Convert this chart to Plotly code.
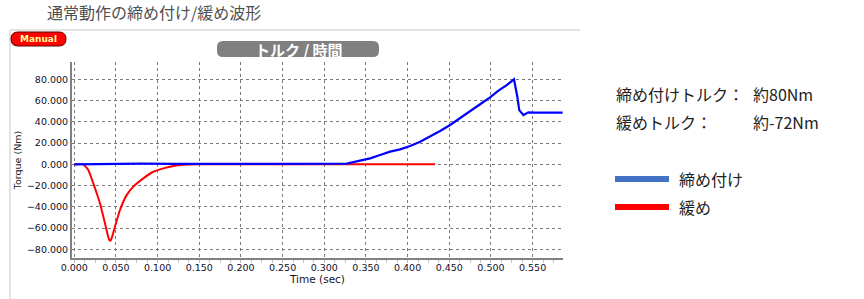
import plotly.graph_objects as go

# ---- data ----
tighten_t = [0, 0.02, 0.05, 0.08, 0.12, 0.16, 0.20, 0.24, 0.28, 0.31, 0.327, 0.343, 0.355, 0.367,
             0.379, 0.391, 0.403, 0.415, 0.427, 0.439, 0.451, 0.463, 0.475, 0.487, 0.499, 0.509,
             0.519, 0.5277, 0.5317, 0.534, 0.539, 0.545, 0.551, 0.586]
tighten_v = [0, 0.2, 0.5, 0.6, 0.4, 0.5, 0.3, 0.5, 0.4, 0.5, 0.6, 3.4, 5.6, 8.7,
             11.9, 14.1, 17.2, 21.3, 26.0, 31.3, 37.0, 43.3, 49.5, 56.5, 63.0, 69.3,
             74.6, 80.0, 63.6, 51.0, 46.4, 48.9, 48.6, 48.6]
loosen_t = [0, 0.0108, 0.0168, 0.0228, 0.0268, 0.0308, 0.0368, 0.040, 0.042, 0.0435, 0.0455,
            0.0488, 0.0548, 0.0628, 0.0708, 0.0828, 0.0948, 0.107, 0.119, 0.131, 0.15, 0.433]
loosen_v = [0, 0, -5.4, -17.9, -27.0, -36.7, -55.5, -66.0, -71.2, -72.0, -68.0,
            -58.7, -43.0, -29.0, -21.0, -13.2, -7.0, -3.8, -1.6, -0.5, 0, 0]

x_ticks = [0.0, 0.05, 0.10, 0.15, 0.20, 0.25, 0.30, 0.35, 0.40, 0.45, 0.50, 0.55]
y_ticks = [-80, -60, -40, -20, 0, 20, 40, 60, 80]

title_text = "通常動作の締め付け/緩め波形"
chart_title = "トルク / 時間"
badge_text = "Manual"
info_lines = [("締め付けトルク：", "約80Nm"), ("緩めトルク：", "約-72Nm")]
legend_items = [("締め付け", "#4472C4"), ("緩め", "#FF0000")]

# ---- layout geometry (pixels) ----
WIDTH, HEIGHT = 864, 299
L, R, T, B = 72, 563, 62, 258
PW, PH = R - L, B - T


def px(x):
    return (x - L) / PW


def py(y):
    return (B - y) / PH


def rounded_rect(x0, y0, x1, y1, r):
    rx, ry = r / PW, r / PH
    X0, X1 = px(x0), px(x1)
    Y0, Y1 = py(y0), py(y1)  # Y0 top (larger), Y1 bottom
    return (f"M {X0+rx},{Y0} L {X1-rx},{Y0} Q {X1},{Y0} {X1},{Y0-ry} "
            f"L {X1},{Y1+ry} Q {X1},{Y1} {X1-rx},{Y1} L {X0+rx},{Y1} "
            f"Q {X0},{Y1} {X0},{Y1+ry} L {X0},{Y0-ry} Q {X0},{Y0} {X0+rx},{Y0} Z")


fig = go.Figure()
fig.add_trace(go.Scatter(x=loosen_t, y=loosen_v, mode="lines",
                         line=dict(color="#FF0000", width=2, shape="spline", smoothing=0.4),
                         showlegend=False))
fig.add_trace(go.Scatter(x=tighten_t, y=tighten_v, mode="lines",
                         line=dict(color="#0000FF", width=2.2), showlegend=False))

shapes = [
    # outer frame lines
    dict(type="line", xref="paper", yref="paper", x0=px(10), x1=px(580), y0=py(30), y1=py(30),
         line=dict(color="#E3E3E3", width=2)),
    dict(type="line", xref="paper", yref="paper", x0=px(10), x1=px(10), y0=py(30), y1=py(299),
         line=dict(color="#E3E3E3", width=2)),
    # Manual badge
    dict(type="path", xref="paper", yref="paper", path=rounded_rect(11, 32, 66, 46, 7),
         fillcolor="#FF0000", line=dict(color="#600000", width=1)),
    # chart title box
    dict(type="path", xref="paper", yref="paper", path=rounded_rect(217, 41, 379, 57, 6),
         fillcolor="#808080", line=dict(width=0)),
]

legend_y = [179, 207]
for (name, color), ly in zip(legend_items, legend_y):
    shapes.append(dict(type="line", xref="paper", yref="paper", x0=px(615), x1=px(669),
                       y0=py(ly), y1=py(ly), line=dict(color=color, width=6)))

annotations = [
    dict(text=title_text, xref="paper", yref="paper", x=px(45), y=py(12), xanchor="left",
         yanchor="middle", showarrow=False,
         font=dict(family="Noto Sans CJK JP", size=16, color="#505050")),
    dict(text="<b>" + badge_text + "</b>", xref="paper", yref="paper", x=px(38.5), y=py(39),
         xanchor="center", yanchor="middle", showarrow=False,
         font=dict(family="DejaVu Sans", size=9, color="#FFFF99")),
    dict(text="<b>" + chart_title + "</b>", xref="paper", yref="paper", x=px(299), y=py(49),
         xanchor="center", yanchor="middle", showarrow=False,
         font=dict(family="Noto Sans CJK JP", size=15, color="#FFFFFF")),
]
for (left, right), ly in zip(info_lines, [94, 122]):
    annotations.append(dict(text=left, xref="paper", yref="paper", x=px(614), y=py(ly),
                            xanchor="left", yanchor="middle", showarrow=False,
                            font=dict(family="Noto Sans CJK JP", size=16, color="#222222")))
    annotations.append(dict(text=right, xref="paper", yref="paper", x=px(751), y=py(ly),
                            xanchor="left", yanchor="middle", showarrow=False,
                            font=dict(family="Noto Sans CJK JP", size=16, color="#222222")))
for (name, color), ly in zip(legend_items, legend_y):
    annotations.append(dict(text=name, xref="paper", yref="paper", x=px(677), y=py(ly),
                            xanchor="left", yanchor="middle", showarrow=False,
                            font=dict(family="Noto Sans CJK JP", size=16, color="#222222")))

tick_font = dict(family="DejaVu Sans", size=9.5, color="#10102a")

fig.update_layout(
    width=WIDTH, height=HEIGHT,
    margin=dict(l=L, r=WIDTH - R, t=T, b=HEIGHT - B, pad=0),
    paper_bgcolor="white", plot_bgcolor="white",
    shapes=shapes, annotations=annotations, showlegend=False,
    xaxis=dict(range=[-0.00276, 0.5865], tickvals=x_ticks, tickformat=".3f",
               showgrid=True, gridcolor="#7a7a7a", griddash="dot", gridwidth=1,
               showline=True, linecolor="#808080", linewidth=2, zeroline=False,
               ticks="", tickfont=tick_font,
               minor=dict(dtick=0.0125, ticks="outside", ticklen=3, tickcolor="#C0C0C0",
                          showgrid=False),
               title=dict(text="Time (sec)", font=dict(family="DejaVu Sans", size=10.5,
                                                       color="#10102a"), standoff=0)),
    yaxis=dict(range=[-88.2, 96.3], tickvals=y_ticks, tickformat=".3f",
               showgrid=True, gridcolor="#7a7a7a", griddash="dot", gridwidth=1,
               showline=True, linecolor="#808080", linewidth=2, zeroline=False,
               ticks="", tickfont=tick_font,
               title=dict(text="Torque (Nm)", font=dict(family="DejaVu Sans", size=9.5,
                                                        color="#202020"), standoff=4)),
)

fig.write_html("out.html")
